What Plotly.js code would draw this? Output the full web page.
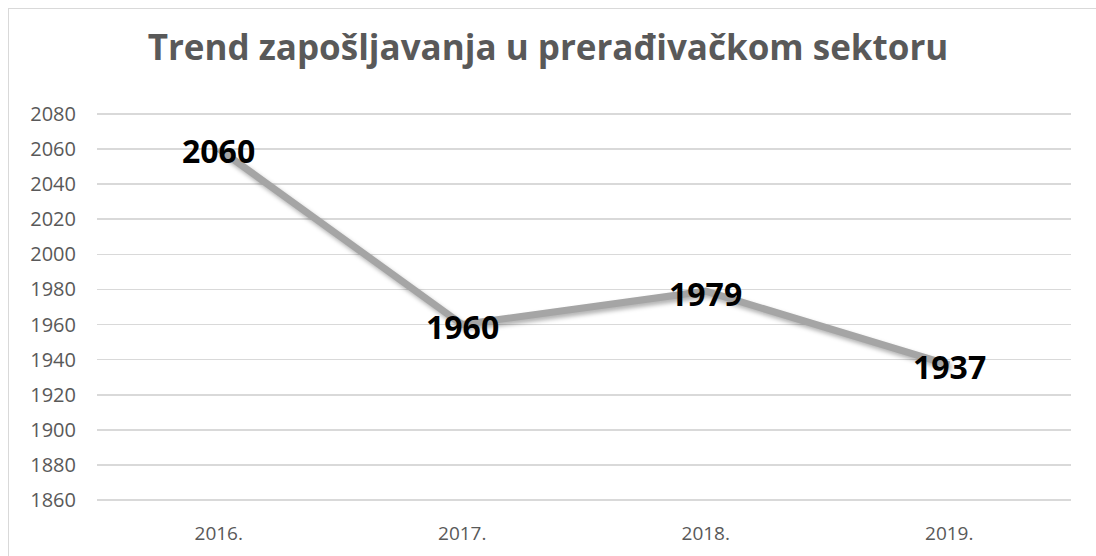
<!DOCTYPE html>
<html>
<head>
<meta charset="utf-8">
<script src="https://cdn.plot.ly/plotly-3.0.1.min.js"></script>
<style>
  html, body { margin: 0; padding: 0; background: #ffffff; }
  #wrap { position: relative; width: 1096px; height: 556px; overflow: hidden; }
  #frame { position: absolute; left: 8px; top: 8px; width: 1100px; height: 560px;
           border-top: 1.5px solid #d9d9d9; border-left: 1.5px solid #d9d9d9; pointer-events: none; }
  #chart { position: absolute; left: 0; top: 0; width: 1096px; height: 556px; }
  .scatterlayer .trace path.js-line { filter: drop-shadow(2px 3px 2px rgba(0,0,0,0.3)); }
</style>
</head>
<body>
<div id="wrap">
  <div id="chart"></div>
  <div id="frame"></div>
</div>
<script>
const years = ["2016.", "2017.", "2018.", "2019."];
const employment = [2060, 1960, 1979, 1937];
const yTicks = [1860, 1880, 1900, 1920, 1940, 1960, 1980, 2000, 2020, 2040, 2060, 2080];
const chartTitle = "Trend zapošljavanja u prerađivačkom sektoru";

const trace = {
  x: years,
  y: employment,
  type: "scatter",
  mode: "lines",
  line: { color: "#a5a5a5", width: 7 },
  hoverinfo: "skip",
  cliponaxis: false
};

const labels = years.map((yr, i) => ({
  x: i,
  y: employment[i],
  xref: "x",
  yref: "y",
  text: "<b>" + employment[i] + "</b>",
  showarrow: false,
  xanchor: "center",
  yanchor: "middle",
  yshift: -2,
  font: { family: "Open Sans, sans-serif", size: 32, color: "#000000" }
}));

const layout = {
  width: 1096,
  height: 556,
  margin: { l: 97, r: 25, t: 112, b: 54 },
  paper_bgcolor: "rgba(0,0,0,0)",
  plot_bgcolor: "rgba(0,0,0,0)",
  showlegend: false,
  annotations: labels,
  title: {
    text: "<b>" + chartTitle + "</b>",
    x: 0.5, xanchor: "center",
    y: 0.9137, yanchor: "middle",
    yref: "container",
    font: { family: "Open Sans, sans-serif", size: 35, color: "#595959" }
  },
  xaxis: {
    type: "category",
    categoryarray: years,
    range: [-0.5, 3.5],
    showgrid: false,
    zeroline: false,
    showline: false,
    ticks: "",
    ticklabelstandoff: 18,
    tickfont: { family: "Open Sans, sans-serif", size: 19, color: "#595959" },
    fixedrange: true
  },
  yaxis: {
    range: [1859, 2081],
    tickvals: yTicks,
    ticktext: yTicks.map(String),
    showgrid: true,
    gridcolor: "#d9d9d9",
    gridwidth: 1.5,
    zeroline: false,
    showline: false,
    ticks: "",
    ticklabelstandoff: 20,
    tickfont: { family: "Open Sans, sans-serif", size: 20, color: "#595959" },
    fixedrange: true
  }
};

Plotly.newPlot("chart", [trace], layout, { displayModeBar: false, staticPlot: true });
</script>
</body>
</html>
